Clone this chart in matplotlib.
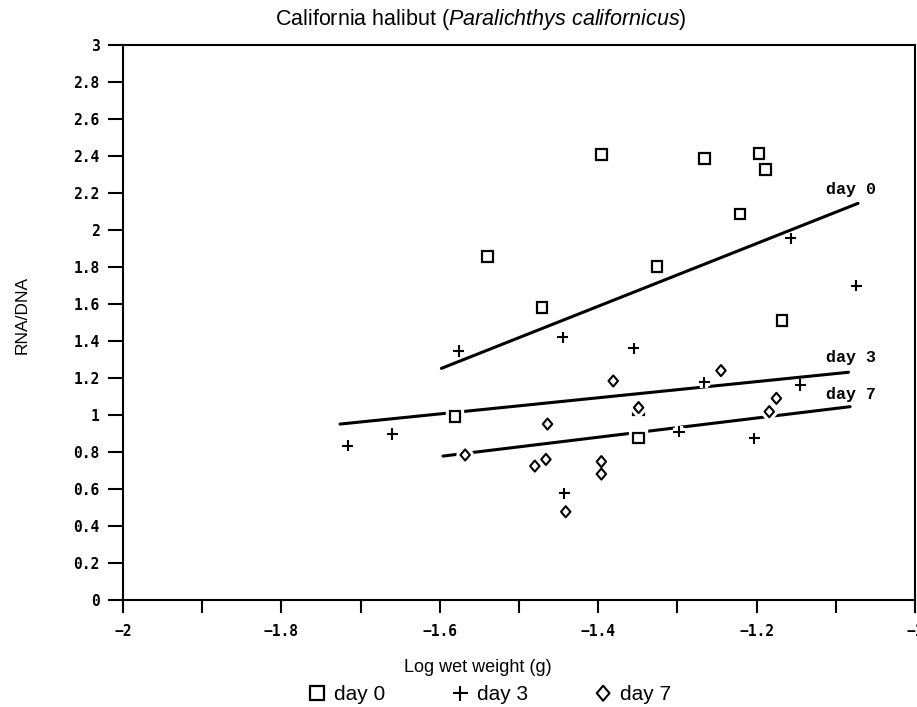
import matplotlib
matplotlib.use("Agg")
import matplotlib.pyplot as plt
import matplotlib.patheffects as pe
from matplotlib.path import Path
import numpy as np

# ---------------- data ----------------
day0_x = [-1.396, -1.266, -1.197, -1.189, -1.221, -1.540, -1.326, -1.471, -1.168, -1.581, -1.349, -1.349]
day0_y = [2.409, 2.387, 2.413, 2.328, 2.087, 1.857, 1.803, 1.581, 1.510, 0.991, 1.027, 0.877]

day3_x = [-1.716, -1.660, -1.576, -1.445, -1.355, -1.266, -1.298, -1.443, -1.145, -1.203, -1.157, -1.074]
day3_y = [0.834, 0.897, 1.346, 1.420, 1.360, 1.177, 0.910, 0.577, 1.162, 0.874, 1.955, 1.700]

day7_x = [-1.381, -1.464, -1.568, -1.480, -1.466, -1.396, -1.396, -1.441, -1.349, -1.245, -1.175, -1.184]
day7_y = [1.184, 0.951, 0.784, 0.724, 0.760, 0.748, 0.681, 0.477, 1.040, 1.240, 1.090, 1.018]

# regression lines: start/end
fit_names = ["day 0", "day 3", "day 7"]
fit_x_start = [-1.598, -1.726, -1.596]
fit_y_start = [1.252, 0.951, 0.778]
fit_x_end = [-1.072, -1.084, -1.082]
fit_y_end = [2.144, 1.231, 1.045]
label_y = [2.22, 1.31, 1.11]
label_x = -1.112

x_ticks = [-2, -1.8, -1.6, -1.4, -1.2, -1.0]
x_ticklabels = ["\u22122", "\u22121.8", "\u22121.6", "\u22121.4", "\u22121.2", "\u22121"]
y_ticks = [0, 0.2, 0.4, 0.6, 0.8, 1, 1.2, 1.4, 1.6, 1.8, 2, 2.2, 2.4, 2.6, 2.8, 3]
y_ticklabels = ["0", "0.2", "0.4", "0.6", "0.8", "1", "1.2", "1.4", "1.6", "1.8", "2",
                "2.2", "2.4", "2.6", "2.8", "3"]

# ---------------- style ----------------
plt.rcParams['mathtext.fontset'] = 'custom'
plt.rcParams['mathtext.rm'] = 'Liberation Sans'
plt.rcParams['mathtext.it'] = 'Liberation Sans:italic'
sans = ['Liberation Sans Narrow', 'Liberation Sans', 'DejaVu Sans']
mono = ['DejaVu Sans Mono', 'Liberation Mono']

fig = plt.figure(figsize=(9.17, 7.07), dpi=100)
ax = fig.add_axes([123/917, 1-600/707, (915-123)/917, (600-45)/707])

# regression lines
for xs, ys, xe, ye in zip(fit_x_start, fit_y_start, fit_x_end, fit_y_end):
    ax.plot([xs, xe], [ys, ye], color='black', lw=2.2, solid_capstyle='round', zorder=2)

halo = [pe.Stroke(linewidth=6, foreground='white'), pe.Normal()]
diamond = Path([(0, -1), (0.85, 0), (0, 1), (-0.85, 0), (0, -1)],
               [Path.MOVETO, Path.LINETO, Path.LINETO, Path.LINETO, Path.CLOSEPOLY])
ax.plot(day0_x, day0_y, ls='none', marker='s', ms=7.5, mfc='white', mec='black', mew=1.6,
        path_effects=halo, zorder=4, label='day 0')
ax.plot(day3_x, day3_y, ls='none', marker='+', ms=8, mec='black', mew=1.5,
        path_effects=halo, zorder=4, label='day 3')
ax.plot(day7_x, day7_y, ls='none', marker=diamond, ms=8, mfc='white', mec='black', mew=1.5,
        path_effects=halo, zorder=5, label='day 7')

for name, ly in zip(fit_names, label_y):
    ax.text(label_x, ly, name, family=['Liberation Mono', 'DejaVu Sans Mono'], fontsize=12,
            fontweight='bold', ha='left', va='center', zorder=6)

ax.set_xlim(-2, -1)
ax.set_ylim(0, 3)
ax.set_xticks(x_ticks)
ax.set_xticklabels(x_ticklabels)
ax.set_xticks(np.arange(-1.9, -1.0, 0.2), minor=True)
ax.set_yticks(y_ticks)
ax.set_yticklabels(y_ticklabels)
ax.tick_params(axis='both', which='both', direction='out', width=1.5, color='black')
ax.tick_params(axis='y', length=11, pad=6)
ax.tick_params(axis='x', which='both', length=9, pad=8)
for lab in ax.get_xticklabels() + ax.get_yticklabels():
    lab.set_fontfamily(mono)
    lab.set_fontweight('bold')
    lab.set_fontsize(10.5)
for sp in ax.spines.values():
    sp.set_linewidth(1.5)

fig.text(481/917, 1-20/707, r"California halibut ($Paralichthys\ californicus$)",
         ha='center', va='center', fontsize=15.5, family=sans)
fig.text(478/917, 1-667/707, "Log wet weight (g)", ha='center', va='center',
         fontsize=13, family=sans)
fig.text(22/917, 1-315/707, "RNA/DNA", ha='center', va='center', rotation=90,
         fontsize=12.5, family=sans)

leg = fig.legend(loc='center', bbox_to_anchor=(490/917, 1-695/707), ncol=3, frameon=False,
                 prop={'family': sans, 'size': 15}, handlelength=0.8, handletextpad=0.4,
                 columnspacing=3.2, borderpad=0.0, markerscale=1.35)

fig.savefig("out.png", dpi=100)
